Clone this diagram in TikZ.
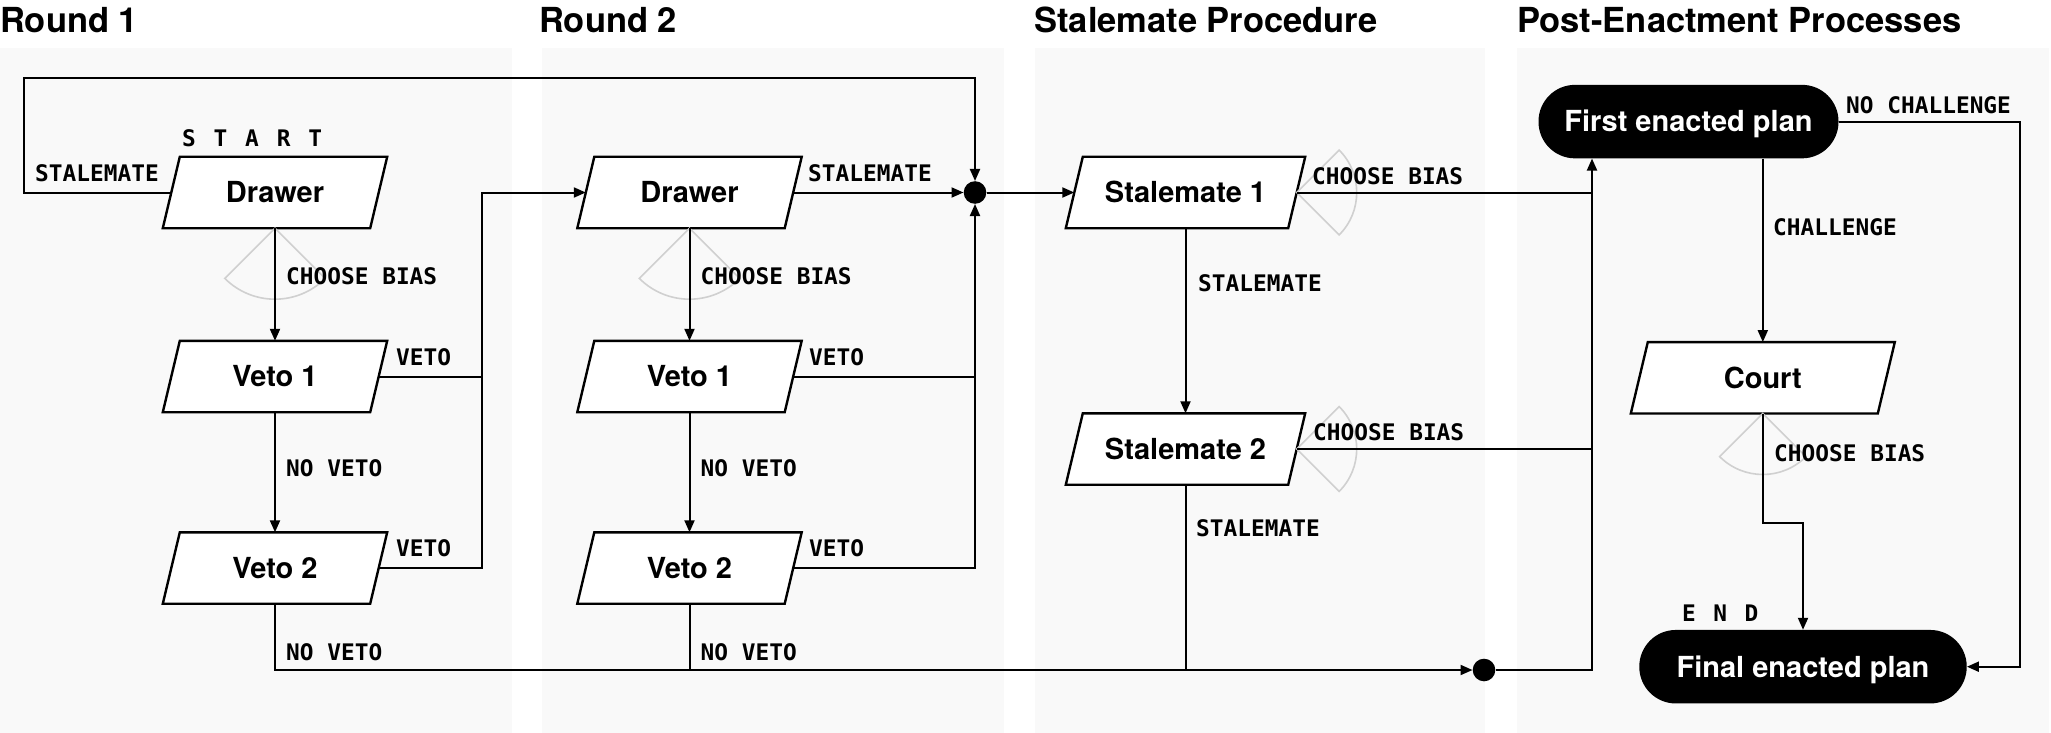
\documentclass[tikz,border=0pt]{standalone}
\usepackage{fontspec}
\setmainfont{TeX Gyre Heros}
\newfontfamily\monof{DejaVu Sans Mono}
\usetikzlibrary{arrows.meta,calc}
\pgfdeclarelayer{bg}\pgfdeclarelayer{mid}\pgfsetlayers{bg,mid,main}
\definecolor{panel}{HTML}{F9F9F9}
\definecolor{sectorgray}{HTML}{D0D0D0}
% name, cx, cy, half width, text
\newcommand\paranode[5]{%
  \node[ptext, minimum width={2*#4}] (#1) at (#2,#3) {#5};
  \begin{pgfonlayer}{mid}
    \draw[pline] ($(#1.south west)+(-8.5,0)$) -- ($(#1.south east)+(-8.5,0)$)
      -- ($(#1.north east)+(8.5,0)$) -- ($(#1.north west)+(8.5,0)$) -- cycle;
  \end{pgfonlayer}}
\begin{document}
\begin{tikzpicture}[x=1pt,y=-1pt,
  pline/.style={draw=black, line width=2.4pt, fill=white, line join=miter},
  ptext/.style={rectangle, inner sep=0pt, minimum height=71pt,
    font=\fontsize{29}{32}\selectfont\bfseries, text height=20.8pt, text depth=0pt},
  stad/.style={rectangle, rounded corners=36.5pt, fill=black, text=white, inner sep=0pt,
    minimum height=73.5pt, font=\fontsize{29}{32}\selectfont\bfseries,
    text height=20.8pt, text depth=0pt},
  title/.style={anchor=base west, inner sep=0pt, font=\fontsize{34.5}{38}\selectfont\bfseries},
  lbl/.style={anchor=west, inner sep=0pt, font=\monof\fontsize{22.8}{26}\selectfont\bfseries},
  conn/.style={draw=black, line width=2pt},
  arr/.style={conn, -{Triangle[length=12pt,width=10pt]}},
  dot/.style={circle, fill=black, minimum size=22.6pt, inner sep=0pt},
  sect/.style={draw=sectorgray, line width=1.6pt}]
\begin{pgfonlayer}{bg}
  \fill[white] (0,0) rectangle (2051,733);
  \fill[panel] (0,48) rectangle (512,733);
  \fill[panel] (542,48) rectangle (1004,733);
  \fill[panel] (1035,48) rectangle (1485,733);
  \fill[panel] (1517,48) rectangle (2049,733);
\end{pgfonlayer}
\useasboundingbox (0,0) rectangle (2051,733);

% titles
\node[title] (t1) at (0,33) {Round 1};
\node[title] (t2) at (539,33) {Round 2};
\node[title] (t3) at (1034,33) {Stalemate Procedure};
\node[title] (t4) at (1517,33) {Post-Enactment Processes};

% parallelogram nodes
\paranode{d1}{275}{192.5}{103.5}{Drawer}
\paranode{v1}{275}{376.5}{103.5}{Veto 1}
\paranode{v2}{275}{568}{103.5}{Veto 2}
\paranode{d2}{689.5}{192.5}{103.5}{Drawer}
\paranode{rv1}{689.5}{376.5}{103.5}{Veto 1}
\paranode{rv2}{689.5}{568}{103.5}{Veto 2}
\paranode{s1}{1185.5}{192.5}{111}{Stalemate 1}
\paranode{s2}{1185.5}{449}{111}{Stalemate 2}
\paranode{court}{1762.8}{377.8}{123.3}{Court}

% terminal nodes
\node[stad, minimum width=300pt] (fep) at (1688.5,121.6) {First enacted plan};
\node[stad, minimum width=327.4pt] (fin) at (1803,666.7) {Final enacted plan};

% junction dots and helper coordinates
\node[dot] (dot1) at (975,192.5) {};
\node[dot] (dot2) at (1484,670) {};
\coordinate (tl) at (24,78);
\coordinate (j1) at (482,192.5);
\coordinate (j2) at (1592,670);
\coordinate (jr) at (2020,121.6);
\coordinate (jc) at (1803,522.7);

% sectors
\draw[sect] (d1.south) -- ++(135:71) arc[start angle=135, end angle=45, radius=71] -- cycle;
\draw[sect] (d2.south) -- ++(135:71) arc[start angle=135, end angle=45, radius=71] -- cycle;
\draw[sect] (court.south) -- ++(135:61) arc[start angle=135, end angle=45, radius=61] -- cycle;
\draw[sect] (s1.east) -- ++(-45:60) arc[start angle=-45, end angle=45, radius=60] -- cycle;
\draw[sect] (s2.east) -- ++(-45:60) arc[start angle=-45, end angle=45, radius=60] -- cycle;

% connectors round 1
\draw[arr] (d1.west) -- (d1.west -| tl) -- (tl) -- (tl -| dot1) -- (dot1.north);
\draw[arr] (d1.south) -- (v1.north);
\draw[arr] (v1.south) -- (v2.north);
\draw[conn] (v1.east) -- (v1.east -| j1);
\draw[arr] (v2.east) -| (j1) -- (d2.west);
\draw[arr] (v2.south) |- (dot2.west);
% round 2
\draw[arr] (d2.east) -- (dot1.west);
\draw[arr] (d2.south) -- (rv1.north);
\draw[arr] (rv1.south) -- (rv2.north);
\draw[conn] (rv1.east) -- (rv1.east -| dot1);
\draw[arr] (rv2.east) -| (dot1.south);
\draw[conn] (rv2.south) -- (rv2.south |- dot2);
% stalemate
\draw[arr] (dot1.east) -- (s1.west);
\draw[arr] (s1.south) -- (s2.north);
\draw[conn] (s2.south) -- (s2.south |- dot2);
\draw[conn] (s1.east) -- (s1.east -| j2);
\draw[conn] (s2.east) -- (s2.east -| j2);
\draw[arr] (dot2.east) -- (j2) -- (j2 |- fep.south);
% post-enactment
\draw[arr] (fep.south -| court.north) -- (court.north);
\draw[arr] (fep.east) -- (jr) |- (fin.east);
\draw[arr] (court.south) |- (jc) -- (fin.north);

% labels
\node[lbl] (l1) at (35,173) {STALEMATE};
\node[lbl] (l2) at (182,138.5) {S\kern17.8pt T\kern17.8pt A\kern17.8pt R\kern17.8pt T};
\node[lbl] (l3) at (286,276.5) {CHOOSE BIAS};
\node[lbl] (l4) at (396,357) {VETO};
\node[lbl] (l5) at (286,468) {NO VETO};
\node[lbl] (l6) at (396,548) {VETO};
\node[lbl] (l7) at (286,652) {NO VETO};
\node[lbl] (l8) at (808,173) {STALEMATE};
\node[lbl] (l9) at (700.5,276.5) {CHOOSE BIAS};
\node[lbl] (l10) at (809,357) {VETO};
\node[lbl] (l11) at (700.5,468) {NO VETO};
\node[lbl] (l12) at (809,548) {VETO};
\node[lbl] (l13) at (700.5,652) {NO VETO};
\node[lbl] (l14) at (1312,176) {CHOOSE BIAS};
\node[lbl] (l15) at (1198,283) {STALEMATE};
\node[lbl] (l16) at (1313,431.7) {CHOOSE BIAS};
\node[lbl] (l17) at (1196,527.7) {STALEMATE};
\node[lbl] (l18) at (1846,105) {NO CHALLENGE};
\node[lbl] (l19) at (1773,227) {CHALLENGE};
\node[lbl] (l20) at (1774,453) {CHOOSE BIAS};
\node[lbl] (l21) at (1682,612.7) {E\kern17.5pt N\kern17.5pt D};
\end{tikzpicture}
\end{document}
